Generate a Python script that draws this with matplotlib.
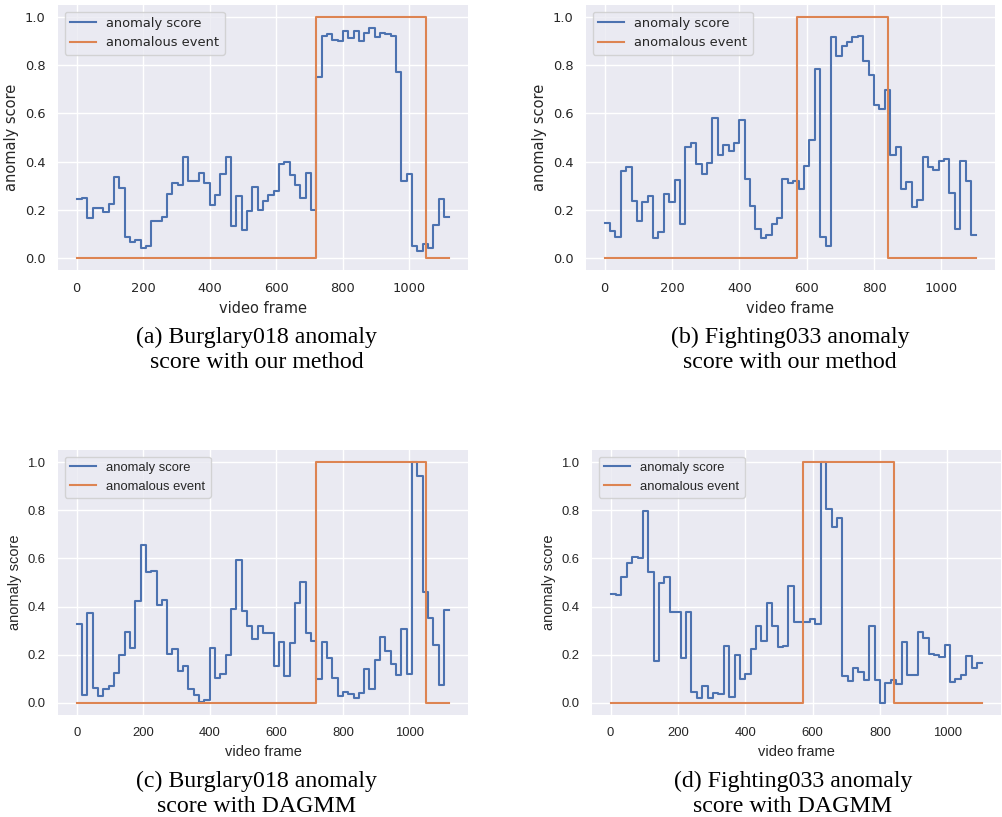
import numpy as np
import matplotlib
matplotlib.use("Agg")
import matplotlib.pyplot as plt

# Anomaly scores, one value per 16-frame segment
STEP = 16

score_ours_burglary = [
    0.243, 0.250, 0.164, 0.208, 0.208, 0.190, 0.224, 0.338, 0.289, 0.087,
    0.066, 0.076, 0.041, 0.051, 0.155, 0.155, 0.168, 0.264, 0.311, 0.301,
    0.418, 0.318, 0.318, 0.353, 0.310, 0.219, 0.261, 0.349, 0.417, 0.131,
    0.257, 0.117, 0.193, 0.294, 0.198, 0.235, 0.261, 0.279, 0.388, 0.399,
    0.345, 0.304, 0.250, 0.353, 0.197, 0.752, 0.923, 0.928, 0.904, 0.901,
    0.942, 0.915, 0.942, 0.901, 0.933, 0.956, 0.919, 0.933, 0.928, 0.922,
    0.770, 0.319, 0.349, 0.048, 0.030, 0.058, 0.040, 0.135, 0.243, 0.169]

score_ours_fighting = [
    0.144, 0.113, 0.085, 0.363, 0.376, 0.238, 0.155, 0.231, 0.256, 0.081,
    0.107, 0.267, 0.231, 0.323, 0.142, 0.459, 0.479, 0.389, 0.347, 0.393,
    0.579, 0.426, 0.470, 0.444, 0.477, 0.571, 0.327, 0.217, 0.120, 0.081,
    0.094, 0.143, 0.165, 0.327, 0.311, 0.320, 0.286, 0.381, 0.491, 0.784,
    0.088, 0.048, 0.919, 0.839, 0.879, 0.898, 0.917, 0.920, 0.818, 0.759,
    0.633, 0.618, 0.697, 0.426, 0.462, 0.287, 0.316, 0.210, 0.239, 0.420,
    0.376, 0.365, 0.404, 0.411, 0.268, 0.120, 0.403, 0.320, 0.096]

score_dagmm_burglary = [
    0.327, 0.032, 0.373, 0.062, 0.029, 0.059, 0.070, 0.125, 0.198, 0.293,
    0.230, 0.425, 0.655, 0.543, 0.549, 0.406, 0.429, 0.205, 0.226, 0.133,
    0.153, 0.059, 0.032, 0.004, 0.014, 0.230, 0.102, 0.122, 0.198, 0.392,
    0.593, 0.381, 0.318, 0.267, 0.318, 0.292, 0.292, 0.153, 0.254, 0.111,
    0.249, 0.413, 0.503, 0.292, 0.259, 0.098, 0.254, 0.186, 0.105, 0.030,
    0.045, 0.036, 0.019, 0.040, 0.139, 0.056, 0.179, 0.274, 0.216, 0.160,
    0.116, 0.307, 0.122, 1.000, 0.944, 0.462, 0.351, 0.239, 0.076, 0.384]

score_dagmm_fighting = [
    0.454, 0.447, 0.524, 0.582, 0.604, 0.601, 0.797, 0.543, 0.176, 0.498,
    0.521, 0.376, 0.378, 0.187, 0.376, 0.044, 0.021, 0.069, 0.021, 0.041,
    0.037, 0.237, 0.026, 0.198, 0.098, 0.121, 0.224, 0.320, 0.256, 0.415,
    0.319, 0.232, 0.235, 0.486, 0.337, 0.337, 0.338, 0.349, 0.329, 1.000,
    0.807, 0.730, 0.766, 0.113, 0.092, 0.147, 0.129, 0.096, 0.318, 0.096,
    0.000, 0.081, 0.096, 0.077, 0.254, 0.117, 0.116, 0.296, 0.268, 0.205,
    0.198, 0.190, 0.241, 0.085, 0.100, 0.117, 0.194, 0.144, 0.165]

# Ground truth: frame where label changes, and label from there on
event_frames_burglary = [0, 720, 1050, 1120]
event_labels_burglary = [0, 1, 0, 0]
event_frames_fighting = [0, 572, 842, 1104]
event_labels_fighting = [0, 1, 0, 0]

captions = [
    ("(a) Burglary018 anomaly", "score with our method"),
    ("(b) Fighting033 anomaly", "score with our method"),
    ("(c) Burglary018 anomaly", "score with DAGMM"),
    ("(d) Fighting033 anomaly", "score with DAGMM"),
]

W, H = 1002, 817

# seaborn darkgrid look
plt.rcParams.update({
    "axes.facecolor": "#EAEAF2",
    "axes.edgecolor": "white",
    "axes.grid": True,
    "grid.color": "white",
    "grid.linewidth": 1.0,
    "axes.axisbelow": True,
    "xtick.major.size": 0,
    "ytick.major.size": 0,
    "xtick.major.pad": 9,
    "ytick.major.pad": 9,
    "xtick.color": ".15",
    "ytick.color": ".15",
    "axes.labelcolor": ".15",
    "text.color": ".15",
})

fig = plt.figure(figsize=(W / 100, H / 100), dpi=100)


def add_axes_px(left, top, right, bottom):
    return fig.add_axes([left / W, 1 - bottom / H, (right - left) / W, (bottom - top) / H])


def draw_panel(ax, scores, ev_frames, ev_labels, font):
    frames = np.arange(len(scores) + 1) * STEP
    ax.step(frames, np.append(scores, scores[-1]), where="post",
            color="#4C72B0", lw=1.5, label="anomaly score")
    ax.step(ev_frames, ev_labels, where="post",
            color="#DD8452", lw=1.5, label="anomalous event")
    for s in ax.spines.values():
        s.set_visible(False)
    ax.set_xticks(range(0, 1001, 200))
    ax.set_yticks(np.arange(0, 1.01, 0.2))
    for lab in ax.get_xticklabels() + ax.get_yticklabels():
        lab.set_family(font)
        lab.set_fontsize(9.4)
    ax.set_xlabel("video frame", family=font, fontsize=10.5)
    ax.set_ylabel("anomaly score", family=font, fontsize=10.5)
    ax.legend(loc="upper left", prop={"family": font, "size": 9.4})


ax_a = add_axes_px(58, 5, 468, 270)
ax_b = add_axes_px(586, 5, 995, 270)
ax_c = add_axes_px(58, 450, 468, 715)
ax_d = add_axes_px(592, 450, 1001, 715)

draw_panel(ax_a, score_ours_burglary, event_frames_burglary, event_labels_burglary, "DejaVu Sans")
draw_panel(ax_b, score_ours_fighting, event_frames_fighting, event_labels_fighting, "DejaVu Sans")
draw_panel(ax_c, score_dagmm_burglary, event_frames_burglary, event_labels_burglary, "Liberation Sans")
draw_panel(ax_d, score_dagmm_fighting, event_frames_fighting, event_labels_fighting, "Liberation Sans")

# Captions below each subfigure
caption_pos = [(257, 337, 363), (790, 337, 363), (257, 781, 806), (793, 781, 806)]
for (line1, line2), (cx, y1, y2) in zip(captions, caption_pos):
    fig.text(cx / W, 1 - y1 / H, line1, ha="center", va="center",
             family="Liberation Serif", fontsize=17.2, color="black")
    fig.text(cx / W, 1 - y2 / H, line2, ha="center", va="center",
             family="Liberation Serif", fontsize=17.2, color="black")

fig.savefig("out.png", dpi=100)
